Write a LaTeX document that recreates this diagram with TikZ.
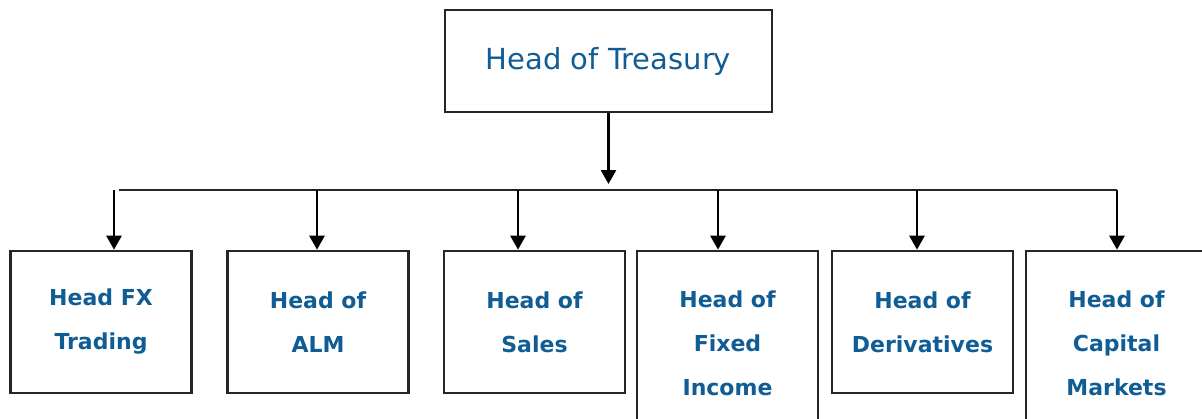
\documentclass[tikz,border=0pt]{standalone}
\usepackage{fontspec}
\setmainfont{DejaVu Sans}
\usetikzlibrary{arrows.meta}
\definecolor{headblue}{RGB}{16,92,148}
\tikzstyle{line} = [draw, line width=2.6pt, -{Triangle[width=15pt,length=14pt]}]

\begin{document}
\begin{tikzpicture}[x=1pt, y=-1pt,
		box/.style={draw=black!85, line width=2.6pt, rectangle,
			minimum width=181pt, minimum height=142pt, inner sep=0pt,
			align=center, text=headblue,
			font=\fontsize{22}{44}\selectfont\bfseries},
		tallbox/.style={box, minimum height=185pt},
		topbox/.style={box, minimum width=327pt, minimum height=102pt,
			font=\fontsize{29}{34}\selectfont}]
		\useasboundingbox (0,0) rectangle (1202,418);
		\clip (0,0) rectangle (1202,418);
		%% Boxes
		\node [topbox] at (608.5,61) (Tr) {Head of Treasury};
		\node [box] at (101,322) (FX) {Head FX\\Trading};
		\node [box] at (318,322) (ALM) {Head of\\ALM};
		\node [box] at (534.5,322) (Sal) {Head of\\Sales};
		\node [tallbox] at (727.5,343.5) (FI) {Head of\\Fixed\\Income};
		\node [box] at (922.5,322) (Der) {Head of\\Derivatives};
		\node [tallbox] at (1116.5,343.5) (CM) {Head of\\Capital\\Markets};
		%% Bar
		\coordinate (J) at (608.5,184);
		\coordinate (d1) at (114,190);
		\coordinate (d2) at (317,190);
		\coordinate (d3) at (518,190);
		\coordinate (d4) at (718,190);
		\coordinate (d5) at (917,190);
		\coordinate (d6) at (1117,190);
		\draw [line width=2.6pt, black!85] (119,190) -- (d6);
		%% Flows
		\path [line] (Tr) -- (J);
		\path [line] (d1) -- (d1 |- FX.north);
		\path [line] (d2) -- (d2 |- ALM.north);
		\path [line] (d3) -- (d3 |- Sal.north);
		\path [line] (d4) -- (d4 |- FI.north);
		\path [line] (d5) -- (d5 |- Der.north);
		\path [line] (d6) -- (d6 |- CM.north);
	\end{tikzpicture}
\end{document}
